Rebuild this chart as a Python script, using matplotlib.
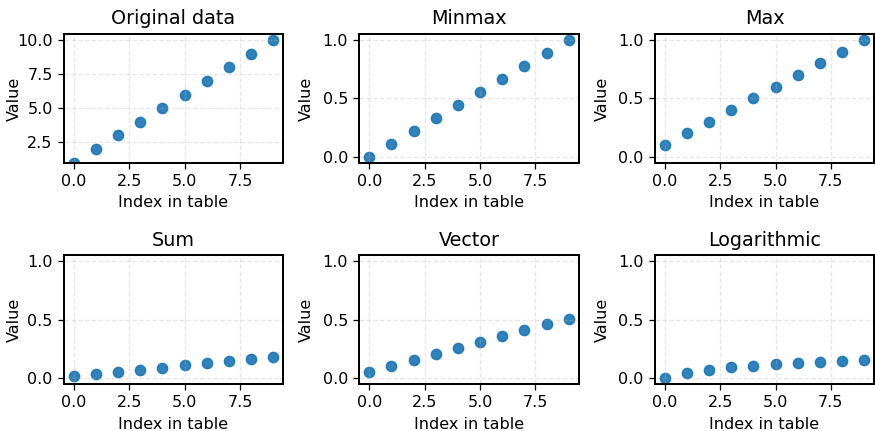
import numpy as np
import matplotlib.pyplot as plt
from matplotlib.ticker import MultipleLocator

index = [0, 1, 2, 3, 4, 5, 6, 7, 8, 9]
original = [1, 2, 3, 4, 5, 6, 7, 8, 9, 10]
minmax = [0.0, 0.111, 0.222, 0.333, 0.444, 0.556, 0.667, 0.778, 0.889, 1.0]
maxnorm = [0.1, 0.2, 0.3, 0.4, 0.5, 0.6, 0.7, 0.8, 0.9, 1.0]
sumnorm = [0.018, 0.036, 0.055, 0.073, 0.091, 0.109, 0.127, 0.145, 0.164, 0.182]
vector = [0.051, 0.102, 0.153, 0.204, 0.255, 0.306, 0.357, 0.408, 0.459, 0.51]
lognorm = [0.0, 0.046, 0.073, 0.092, 0.107, 0.119, 0.129, 0.138, 0.145, 0.152]

titles = ["Original data", "Minmax", "Max", "Sum", "Vector", "Logarithmic"]
series = [original, minmax, maxnorm, sumnorm, vector, lognorm]

fig, axs = plt.subplots(2, 3, figsize=(875/115, 431/115), dpi=115)
for i, (ax, t, s) in enumerate(zip(axs.flat, titles, series)):
    ax.scatter(index, s, color='#1f77b4', alpha=0.92, s=40)
    ax.set_title(t)
    ax.set_xlabel("Index in table")
    ax.set_ylabel("Value")
    # ylabel sits close to the axis, as in the original figure
    ax.yaxis.set_label_coords(-0.19 if i % 3 == 0 else -0.207, 0.5)
    ax.grid(linestyle='--', color='#b0b0b0', alpha=0.3)
    ax.xaxis.set_major_locator(MultipleLocator(2.5))
    ax.set_xlim(-0.45, 9.45)
    if t == "Original data":
        ax.set_ylim(1, 10.45)
        ax.yaxis.set_major_locator(MultipleLocator(2.5))
    else:
        ax.set_ylim(-0.05, 1.05)
        ax.yaxis.set_major_locator(MultipleLocator(0.5))
    for sp in ax.spines.values():
        sp.set_linewidth(1.25)

plt.subplots_adjust(left=0.073, right=0.999, top=0.921, bottom=0.109,
                    wspace=0.347, hspace=0.72)
plt.savefig("out.png")
